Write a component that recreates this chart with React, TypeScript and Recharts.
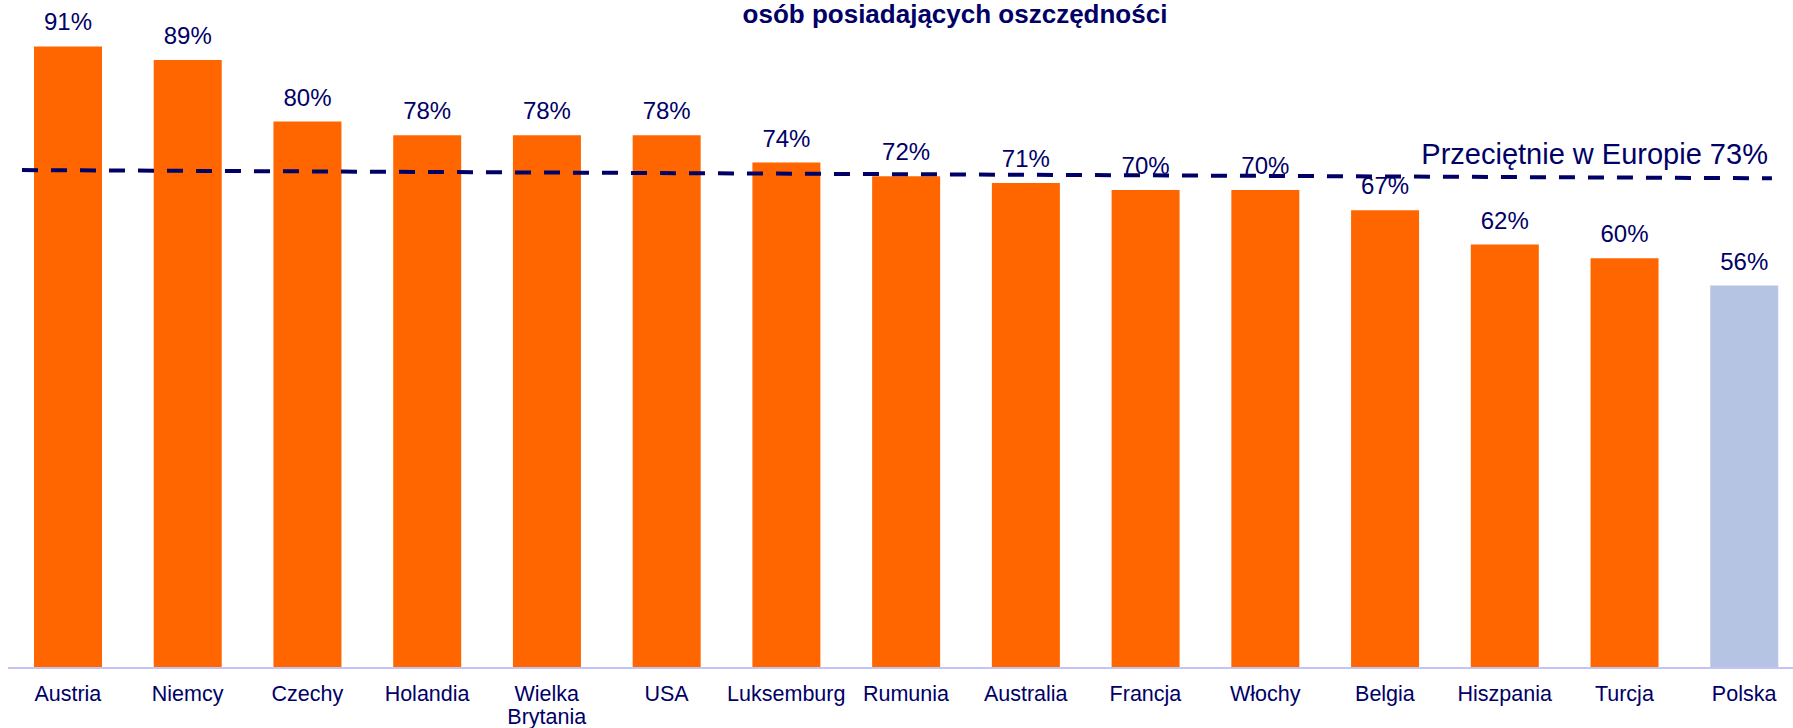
import { BarChart, Bar, XAxis, YAxis, Cell, LabelList, ReferenceLine } from 'recharts';

const countries = [
  'Austria',
  'Niemcy',
  'Czechy',
  'Holandia',
  'Wielka Brytania',
  'USA',
  'Luksemburg',
  'Rumunia',
  'Australia',
  'Francja',
  'Włochy',
  'Belgia',
  'Hiszpania',
  'Turcja',
  'Polska',
];
const savingsShare = [91, 89, 80, 78, 78, 78, 74, 72, 71, 70, 70, 67, 62, 60, 56];
const highlighted = 'Polska';

const europeAverage = 73;
// the average line in the original is drawn slightly tilted
const averageStart = { pos: 0.109, value: 72.9 };
const averageEnd = { pos: 13.75, value: 71.7 };

const title = 'osób posiadających oszczędności';

const data = countries.map((name, i) => ({ name, value: savingsShare[i] }));

const NAVY = '#000066';
const FONT = '"Liberation Sans", Arial, sans-serif';

function CountryTick(props: any) {
  const { x, y, payload } = props;
  const label: string = payload.value;
  // long names go on two lines
  const lines = label.length > 12 ? label.split(' ') : [label];
  return (
    <text
      x={x}
      y={y}
      textAnchor="middle"
      fill={NAVY}
      fontSize={21.5}
      fontFamily={FONT}
    >
      {lines.map((l, i) => (
        <tspan key={i} x={x} dy={i === 0 ? '0.71em' : 23}>
          {l}
        </tspan>
      ))}
    </text>
  );
}

function AverageLabel(props: any) {
  const vb = props.viewBox;
  if (!vb) return null;
  return (
    <text
      x={vb.x + vb.width - 4}
      y={vb.y + vb.height - 14}
      textAnchor="end"
      fill={NAVY}
      fontSize={29}
      fontFamily={FONT}
    >
      Przeciętnie w Europie {europeAverage}%
    </text>
  );
}

export default function App() {
  return (
    <div
      style={{
        position: 'fixed',
        left: 0,
        top: 0,
        width: 1793,
        height: 728,
        overflow: 'hidden',
        background: '#fff',
      }}
    >
      <BarChart
        width={1804}
        height={728}
        data={data}
        margin={{ top: 0, right: 0, left: 8, bottom: 0 }}
      >
        <XAxis
          dataKey="name"
          height={60}
          interval={0}
          tickLine={false}
          tickSize={6}
          tickMargin={12}
          axisLine={{ stroke: '#C3C3F5', strokeWidth: 2 }}
          tick={<CountryTick />}
        />
        <XAxis xAxisId="n" type="number" domain={[0, 14]} allowDataOverflow hide />
        <YAxis hide domain={[0, 97.8]} />
        <Bar dataKey="value" barSize={68} isAnimationActive={false}>
          {data.map((d) => (
            <Cell key={d.name} fill={d.name === highlighted ? '#B4C4E2' : '#FF6600'} />
          ))}
          <LabelList
            dataKey="value"
            position="top"
            offset={16}
            formatter={(v: any) => `${v}%`}
            fill={NAVY}
            fontSize={24}
            fontFamily={FONT}
          />
        </Bar>
        <ReferenceLine
          xAxisId="n"
          ifOverflow="visible"
          segment={[
            { x: averageStart.pos, y: averageStart.value },
            { x: averageEnd.pos, y: averageEnd.value },
          ]}
          stroke={NAVY}
          strokeWidth={4}
          strokeDasharray="16 13"
          label={<AverageLabel />}
        />
      </BarChart>
      <svg
        width={1793}
        height={40}
        style={{ position: 'absolute', left: 0, top: 0, pointerEvents: 'none' }}
      >
        <text
          x={955}
          y={23}
          textAnchor="middle"
          fill={NAVY}
          fontSize={26}
          fontWeight="bold"
          fontFamily={FONT}
        >
          {title}
        </text>
      </svg>
    </div>
  );
}
